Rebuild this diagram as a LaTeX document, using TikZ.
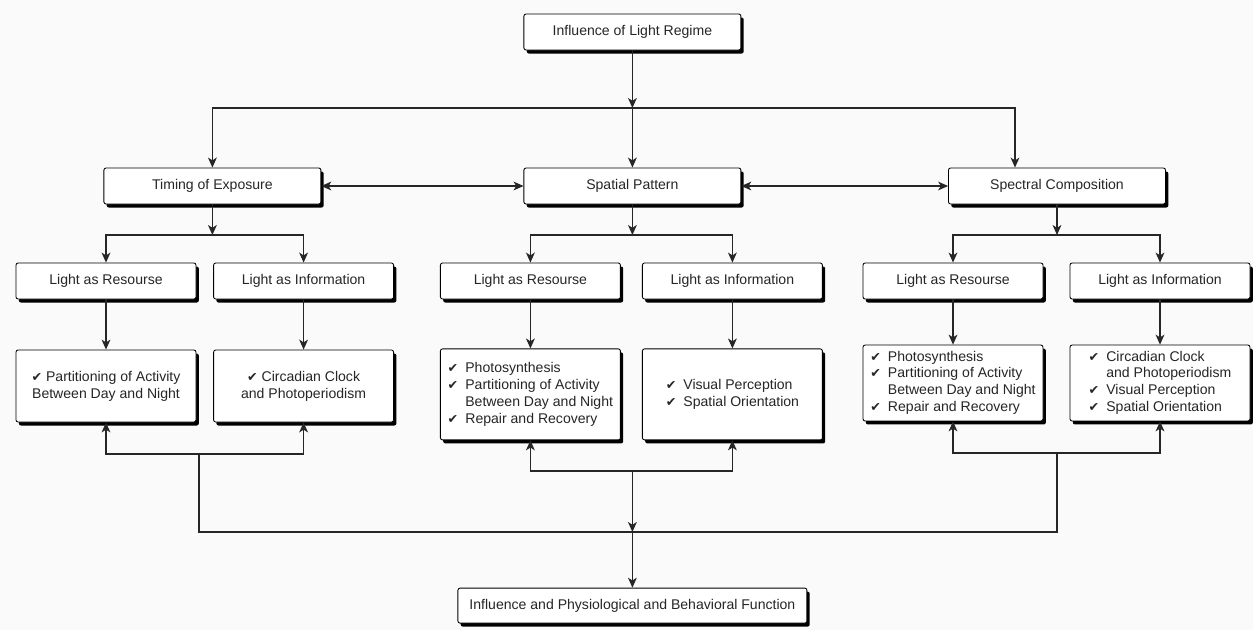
\documentclass[tikz,border=0pt]{standalone}
\usepackage{fontspec}
\setmainfont{Liberation Sans}
\newfontfamily\symfont{DejaVu Sans}
\usepackage{tikz}
\usetikzlibrary{arrows.meta, shadows}
\newcommand{\ck}{{\symfont\small ✔}}
\tikzset{
  box/.style     ={draw, rounded corners=1.5pt, fill=white, line width=0.6pt, inner sep=3pt, text=black!85,
                   drop shadow={opacity=1, fill=black, shadow xshift=2pt, shadow yshift=-2.5pt}},
  headbox/.style ={box, minimum width=54.25mm, minimum height=9mm},
  subbox/.style  ={box, minimum width=45mm, minimum height=9mm},
  listbox/.style ={box, minimum width=45mm, minimum height=18mm, align=center},
  arr/.style     ={-{Stealth[length=2.5mm, width=2.2mm, inset=0.7mm]}, line width=0.8pt, black!85}, % one way
  arrtwo/.style  ={{Stealth[length=2.5mm, width=2.2mm, inset=0.7mm]}-{Stealth[length=2.5mm, width=2.2mm, inset=0.7mm]}, line width=0.8pt, black!85},
  line/.style    ={line width=0.8pt, black!85},
}

\begin{document}
\begin{tikzpicture}
  \fill[black!2] (0,0) rectangle (31.325,-15.75);
  \useasboundingbox (0,0) rectangle (31.325,-15.75);

  % top level
  \node[headbox] (top)  at (15.81,-0.8)  {Influence of Light Regime};
  \node[headbox] (tim)  at (5.31,-4.65)  {Timing of Exposure};
  \node[headbox] (spat) at (15.81,-4.65) {Spatial Pattern};
  \node[headbox] (spec) at (26.425,-4.65) {Spectral Composition};
  \coordinate (jt) at (15.81,-2.7);
  \draw[arr] (top) -- (jt);
  \draw[arr] (jt) -- (spat);
  \draw[arr] (jt) -| (tim);
  \draw[arr] (jt) -| ([xshift=-10.5mm]spec.north);
  \draw[arrtwo] (tim) -- (spat);
  \draw[arrtwo] (spat) -- (spec);

  % resource / information
  \node[subbox] (r1) at (2.65,-7.025)   {Light as Resourse};
  \node[subbox] (i1) at (7.59,-7.025)   {Light as Information};
  \node[subbox] (r2) at (13.26,-7.025)  {Light as Resourse};
  \node[subbox] (i2) at (18.31,-7.025)  {Light as Information};
  \node[subbox] (r3) at (23.825,-7.025) {Light as Resourse};
  \node[subbox] (i3) at (29.0,-7.025)   {Light as Information};
  \coordinate (j1) at (5.31,-5.875);
  \coordinate (j2) at (15.81,-5.875);
  \coordinate (j3) at (26.425,-5.875);
  \draw[arr] (tim) -- (j1);
  \draw[arr] (spat) -- (j2);
  \draw[arr] (spec) -- (j3);
  \draw[arr] (j1) -| (r1);  \draw[arr] (j1) -| (i1);
  \draw[arr] (j2) -| (r2);  \draw[arr] (j2) -| (i2);
  \draw[arr] (j3) -| (r3);  \draw[arr] (j3) -| (i3);

  % functions
  \node[listbox] (c1) at (2.65,-9.65) {\ck\ Partitioning of Activity\\Between Day and Night};
  \node[listbox] (c2) at (7.59,-9.65) {\ck\ Circadian Clock\\and Photoperiodism};
  \node[listbox, minimum height=22.75mm] (c3) at (13.26,-9.86)
    {\begin{tabular}{@{}c@{\hspace{5pt}}l@{}}
      \ck & Photosynthesis\\ \ck & Partitioning of Activity\\ & Between Day and Night\\ \ck & Repair and Recovery
    \end{tabular}};
  \node[listbox, minimum height=22.75mm] (c4) at (18.31,-9.86)
    {\begin{tabular}{@{}c@{\hspace{5pt}}l@{}}
      \ck & Visual Perception\\ \ck & Spatial Orientation
    \end{tabular}};
  \node[listbox] (c5) at (23.825,-9.575)
    {\begin{tabular}{@{}c@{\hspace{5pt}}l@{}}
      \ck & Photosynthesis\\ \ck & Partitioning of Activity\\ & Between Day and Night\\ \ck & Repair and Recovery
    \end{tabular}};
  \node[listbox] (c6) at (29.0,-9.575)
    {\begin{tabular}{@{}c@{\hspace{5pt}}l@{}}
      \ck & Circadian Clock\\ & and Photoperiodism\\ \ck & Visual Perception\\ \ck & Spatial Orientation
    \end{tabular}};
  \draw[arr] (r1) -- (c1);  \draw[arr] (i1) -- (c2);
  \draw[arr] (r2) -- (c3);  \draw[arr] (i2) -- (c4);
  \draw[arr] (r3) -- (c5);  \draw[arr] (i3) -- (c6);

  % bottom
  \node[box, minimum width=87.25mm, minimum height=8.75mm] (bot) at (15.81,-15.14)
    {Influence and Physiological and Behavioral Function};
  \coordinate (jl) at (4.975,-11.35);
  \coordinate (jm) at (15.81,-11.775);
  \coordinate (jr) at (26.425,-11.325);
  \coordinate (jb) at (15.81,-13.3);
  \draw[arr] (jl) -| (c1);  \draw[arr] (jl) -| (c2);
  \draw[arr] (jm) -| (c3);  \draw[arr] (jm) -| (c4);
  \draw[arr] (jr) -| (c5);  \draw[arr] (jr) -| (c6);
  \draw[line] (jl) |- (jb);
  \draw[line] (jr) |- (jb);
  \draw[arr] (jm) -- (jb);
  \draw[arr] (jb) -- (bot);
\end{tikzpicture}
\end{document}
